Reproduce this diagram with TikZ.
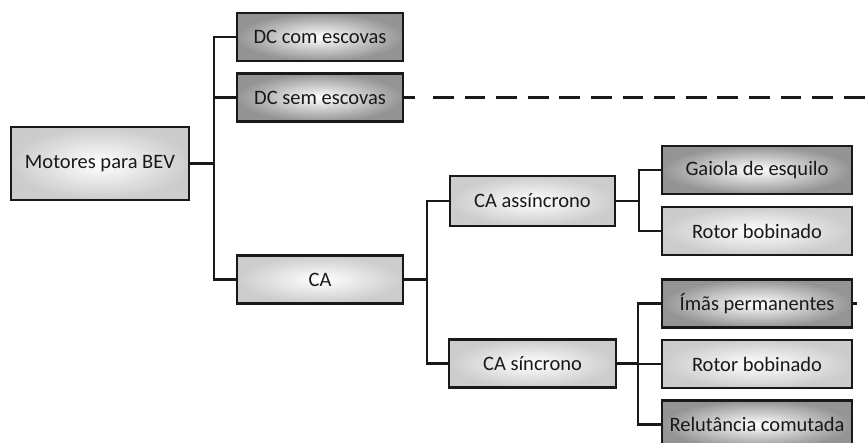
\documentclass[tikz,border=0pt]{standalone}
\usepackage{fontspec}
\setmainfont{Carlito}
\usepackage{tikz}
\usetikzlibrary{positioning,calc}

\begin{document}
\begin{tikzpicture}[x=1pt,y=-1pt,
  bx/.style={rectangle,draw=black!90,line width=2.4pt,inner sep=0pt,
    minimum height=48pt,font=\fontsize{20.5}{24}\selectfont,text=black!90},
  lt/.style={bx,inner color=white,outer color=black!20},
  dk/.style={bx,inner color=white,outer color=black!42},
  ln/.style={line width=2.4pt,draw=black!90},
  dsh/.style={ln,dash pattern=on 20.7pt off 10.9pt}]

\useasboundingbox (0,0) rectangle (866,443);

% --- root and first level ---
\node[lt,minimum width=178pt,minimum height=73pt] (mot) at (100,163.5) {Motores para BEV};
\node[dk,minimum width=166pt] (dcc) at (320,37)    {DC com escovas};
\node[dk,minimum width=166pt] (dcs) at (320,97.5)  {DC sem escovas};
\node[lt,minimum width=166pt] (ca)  at (320,279.5) {CA};

% --- CA split ---
\node[lt,minimum width=165pt,minimum height=50pt] (cas) at (532.5,201) {CA assíncrono};
\node[lt,minimum width=167pt] (csi) at (532.5,363.5) {CA síncrono};

% --- leaves ---
\node[dk,minimum width=190pt] (gai) at (757,170)   {Gaiola de esquilo};
\node[lt,minimum width=190pt] (rb1) at (757,231)   {Rotor bobinado};
\node[dk,minimum width=190pt] (ima) at (757,303.5) {Ímãs permanentes};
\node[lt,minimum width=190pt] (rb2) at (757,364)   {Rotor bobinado};
\node[dk,minimum width=190pt] (rel) at (757,424.5) {Relutância comutada};

% junctions
\coordinate (j1) at (214,163.5);
\coordinate (j2) at (427,279.5);
\coordinate (j3) at (639,201);
\coordinate (j4) at (638,363.5);

\draw[ln] (mot) -- (j1);
\draw[ln] (j1) |- (dcc);
\draw[ln] (j1) |- (dcs);
\draw[ln] (j1) |- (ca);

\draw[ln] (ca) -- (j2);
\draw[ln] (j2) |- (cas);
\draw[ln] (j2) |- (csi);

\draw[ln] (cas) -- (j3);
\draw[ln] (j3) |- (gai);
\draw[ln] (j3) |- (rb1);

\draw[ln] (csi) -- (j4);
\draw[ln] (j4) |- (ima);
\draw[ln] (j4) |- (rb2);
\draw[ln] (j4) |- (rel);

% open ends
\coordinate (dcsa) at (415,97.5);
\coordinate (dcsb) at (433,97.5);
\coordinate (dcsc) at (866,97.5);
\draw[ln] (dcs) -- (dcsa);
\draw[dsh] (dcsb) -- (dcsc);
\coordinate (imat) at (857,303.5);
\draw[ln] (ima) -- (imat);
\end{tikzpicture}
\end{document}
